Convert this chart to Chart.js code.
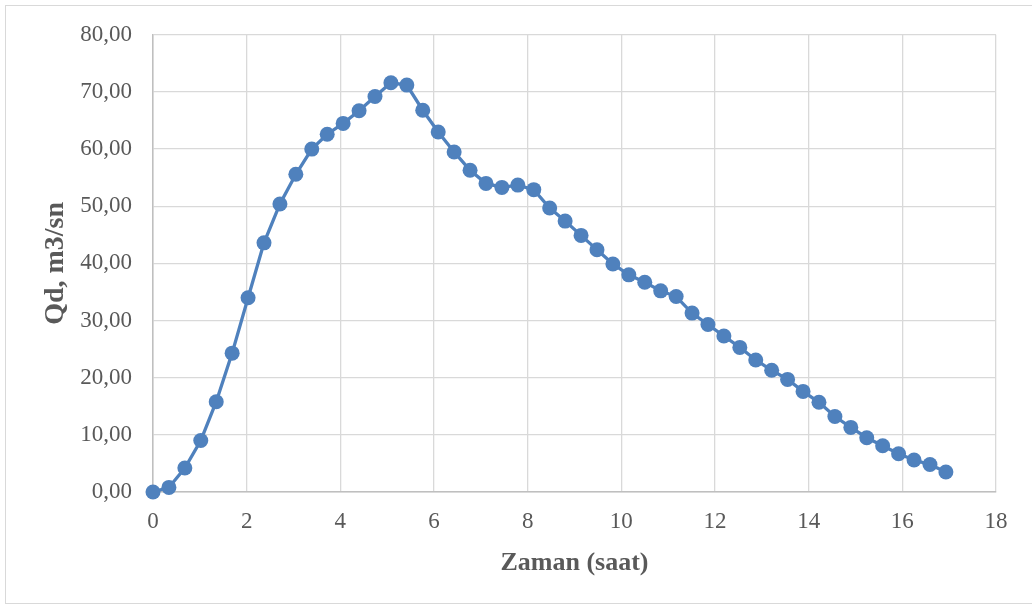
<!DOCTYPE html>
<html>
<head>
<meta charset="utf-8">
<script src="https://cdn.jsdelivr.net/npm/chart.js@4.4.1/dist/chart.umd.min.js"></script>
<style>
  html, body { margin: 0; padding: 0; background: #ffffff; }
  #wrap { position: relative; width: 1032px; height: 606px; overflow: hidden; }
  #frame { position: absolute; left: 5px; top: 5px; width: 1030px; height: 599px; border: 1.5px solid #d9d9d9; box-sizing: border-box; }
  canvas { position: absolute; left: 0; top: 0; }
</style>
</head>
<body>
<div id="wrap">
  <div id="frame"></div>
  <canvas id="c" width="1032" height="606"></canvas>
</div>
<script>
// Time (hours)
const timeHours = [0, 0.34, 0.68, 1.02, 1.35, 1.69, 2.03, 2.37, 2.71, 3.05, 3.39, 3.72, 4.06, 4.40, 4.74, 5.08, 5.42, 5.76, 6.09, 6.43, 6.77, 7.11, 7.45, 7.79, 8.13, 8.47, 8.80, 9.14, 9.48, 9.82, 10.16, 10.50, 10.84, 11.17, 11.51, 11.85, 12.19, 12.53, 12.87, 13.21, 13.55, 13.88, 14.22, 14.56, 14.90, 15.24, 15.58, 15.92, 16.25, 16.59, 16.93];
// Discharge Qd (m3/sn)
const qdValues = [0, 0.8, 4.2, 9.0, 15.8, 24.3, 34.0, 43.6, 50.4, 55.6, 60.0, 62.6, 64.5, 66.7, 69.2, 71.6, 71.2, 66.8, 63.0, 59.5, 56.3, 54.0, 53.3, 53.7, 52.9, 49.7, 47.4, 44.9, 42.4, 39.9, 38.0, 36.7, 35.2, 34.2, 31.3, 29.3, 27.3, 25.3, 23.1, 21.3, 19.7, 17.6, 15.7, 13.2, 11.3, 9.5, 8.1, 6.7, 5.6, 4.8, 3.5];
const xTickValues = [0, 2, 4, 6, 8, 10, 12, 14, 16, 18];
const yTickValues = [0, 10, 20, 30, 40, 50, 60, 70, 80];
const xTitle = 'Zaman (saat)';
const yTitle = 'Qd, m3/sn';

const points = timeHours.map((t, i) => ({ x: t, y: qdValues[i] }));

const PLOT_LEFT = 153, PLOT_RIGHT = 996, PLOT_TOP = 33, PLOT_BOTTOM = 492;
const PAD_LEFT = 39, PAD_BOTTOM = 27;

new Chart(document.getElementById('c'), {
  type: 'scatter',
  data: {
    datasets: [{
      data: points,
      showLine: true,
      borderColor: '#4f81bd',
      backgroundColor: '#4f81bd',
      borderWidth: 3.3,
      pointRadius: 7.5,
      pointHoverRadius: 7.5,
      pointBorderWidth: 0,
      tension: 0,
      clip: false
    }]
  },
  options: {
    responsive: false,
    animation: false,
    devicePixelRatio: 1,
    layout: { padding: { left: PAD_LEFT, top: PLOT_TOP, right: 1032 - PLOT_RIGHT, bottom: PAD_BOTTOM } },
    plugins: { legend: { display: false }, tooltip: { enabled: false } },
    scales: {
      x: {
        type: 'linear',
        min: 0, max: 18,
        afterBuildTicks: (s) => { s.ticks = xTickValues.map(v => ({ value: v })); },
        afterFit: (s) => { s.height = 606 - PAD_BOTTOM - PLOT_BOTTOM; },
        ticks: {
          color: '#595959',
          font: { family: '"Liberation Serif", "Times New Roman", serif', size: 23 },
          padding: 16,
          callback: (v) => String(v)
        },
        grid: { color: '#d9d9d9', lineWidth: 1.3, drawTicks: false },
        border: { color: '#bfbfbf', width: 1.5 },
        title: {
          display: true, text: xTitle, color: '#595959',
          font: { family: '"Liberation Serif", "Times New Roman", serif', size: 26, weight: 'bold' },
          padding: { top: 0, bottom: 0 }
        }
      },
      y: {
        type: 'linear',
        min: 0, max: 80,
        afterBuildTicks: (s) => { s.ticks = yTickValues.map(v => ({ value: v })); },
        afterFit: (s) => { s.width = PLOT_LEFT - PAD_LEFT; },
        ticks: {
          color: '#595959',
          font: { family: '"Liberation Serif", "Times New Roman", serif', size: 23 },
          padding: 21,
          callback: (v) => v.toFixed(2).replace('.', ',')
        },
        grid: { color: '#d9d9d9', lineWidth: 1.3, drawTicks: false },
        border: { color: '#bfbfbf', width: 1.5 },
        title: {
          display: true, text: yTitle, color: '#595959',
          font: { family: '"Liberation Serif", "Times New Roman", serif', size: 28, weight: 'bold' },
          padding: { top: 0, bottom: 0 }
        }
      }
    }
  }
});
</script>
</body>
</html>
